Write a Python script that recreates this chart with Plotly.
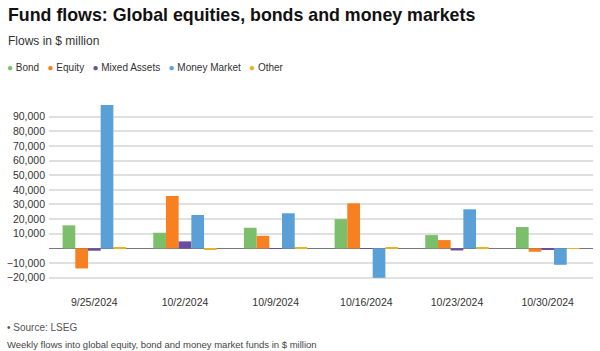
import plotly.graph_objects as go

dates = ["9/25/2024", "10/2/2024", "10/9/2024", "10/16/2024", "10/23/2024", "10/30/2024"]
bond = [15750, 10700, 14100, 20000, 9100, 14600]
equity = [-13700, 35800, 8600, 30800, 5700, -2300]
mixed = [-1600, 4800, -300, 100, -1400, -700]
money = [98000, 22800, 24000, -20100, 26700, -11200]
other = [900, -500, 500, 700, 500, 100]

names = ["Bond", "Equity", "Mixed Assets", "Money Market", "Other"]
colors = ["#7cbf6b", "#f98020", "#6a4fa0", "#5aa0d6", "#e9b22b"]
series = [bond, equity, mixed, money, other]

yticks = [-20000, -10000, 10000, 20000, 30000, 40000, 50000, 60000, 70000, 80000, 90000]

fig = go.Figure()
for n, c, s in zip(names, colors, series):
    fig.add_trace(go.Bar(x=dates, y=s, name=n, marker=dict(color=c, line=dict(width=0)),
                         showlegend=False))

L, R, T, B = 47, 7, 102, 66
W, H = 600, 351
pw, ph = W - L - R, H - T - B

def px(p):
    return (p - L) / pw

def py(p):
    return (H - B - p) / ph

legend_txt = "&nbsp;&nbsp;&nbsp;".join(
    f"<span style='color:{c};font-size:10px'>●</span>&nbsp;{n}" for n, c in zip(names, colors))

fig.update_layout(
    width=W, height=H,
    margin=dict(l=L, r=R, t=T, b=B),
    paper_bgcolor="white", plot_bgcolor="white",
    barmode="group", bargap=0.3, bargroupgap=0,
    font=dict(family="Liberation Sans, Arial, sans-serif", color="#333", size=10),
    xaxis=dict(type="category", showgrid=False, zeroline=False,
               showline=False, ticks="", ticklabelstandoff=9,
               tickfont=dict(size=10.5, color="#333")),
    yaxis=dict(range=[-25000, 100000], tickvals=yticks, tickformat=",",
               showgrid=True, gridcolor="#e0e0e0", gridwidth=1.5,
               zeroline=True, zerolinecolor="#777", zerolinewidth=1,
               tickfont=dict(size=10.5, color="#333"), ticks="", showline=False,
               ticklabelstandoff=3),
    annotations=[
        dict(text="<b>Fund flows: Global equities, bonds and money markets</b>",
             xref="paper", yref="paper", x=px(4), y=py(15), xanchor="left", yanchor="middle",
             showarrow=False, font=dict(size=17.8, color="#111")),
        dict(text="Flows in $ million", xref="paper", yref="paper", x=px(4), y=py(41),
             xanchor="left", yanchor="middle", showarrow=False, font=dict(size=12, color="#333")),
        dict(text=legend_txt, xref="paper", yref="paper", x=px(3), y=py(67),
             xanchor="left", yanchor="middle", showarrow=False, font=dict(size=10, color="#333")),
        dict(text="• Source: LSEG", xref="paper", yref="paper", x=px(3), y=py(327),
             xanchor="left", yanchor="middle", showarrow=False,
             font=dict(size=10, color="#555")),
        dict(text="Weekly flows into global equity, bond and money market funds in $ million",
             xref="paper", yref="paper", x=px(3), y=py(344), xanchor="left", yanchor="middle",
             showarrow=False, font=dict(size=9.5, color="#444")),
    ],
)

fig.write_html("out.html")
